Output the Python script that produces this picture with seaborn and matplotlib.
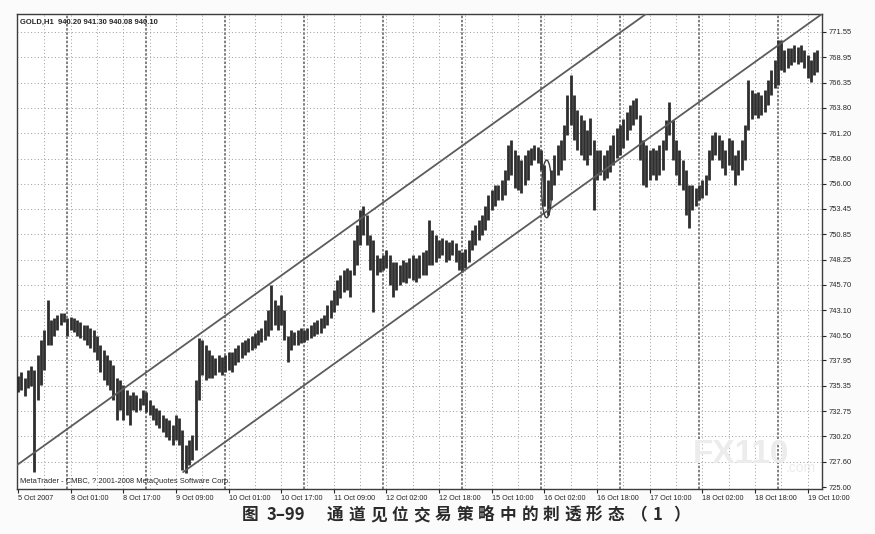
"""
GOLD H1 channel chart (MetaTrader style) with caption.
Saves out.png (875x534).
"""

import matplotlib
matplotlib.use('Agg')

import matplotlib.pyplot as plt
import pandas as pd
import seaborn as sns
from matplotlib.patches import Ellipse


# ── Data ──────────────────────────────────────────────────────────────────────

HIGH = [
    736.4, 736.8, 736.2, 737.0, 737.4, 737.0, 738.5, 740.0, 741.1, 744.1,
    742.1, 742.3, 742.6, 742.8, 742.8, 742.3, 742.4, 742.3, 742.1, 741.9,
    741.6, 741.6, 741.3, 741.1, 740.5, 739.5, 739.0, 738.5, 738.0, 737.5,
    736.2, 735.9, 735.4, 734.9, 734.4, 734.7, 734.4, 734.1, 734.9, 734.7,
    733.9, 733.4, 733.1, 732.9, 732.4, 732.1, 731.9, 731.3, 732.4, 732.1,
    730.8, 729.3, 729.8, 730.3, 735.9, 740.2, 740.0, 739.5, 739.0, 738.5,
    738.2, 738.5, 738.3, 738.5, 738.8, 738.8, 739.2, 739.5, 739.8, 740.0,
    740.2, 740.5, 740.8, 741.1, 741.3, 742.1, 743.1, 745.7, 744.1, 743.6,
    744.6, 743.1, 740.5, 741.1, 740.9, 741.1, 741.3, 741.1, 741.3, 741.6,
    741.9, 742.1, 742.3, 742.6, 743.6, 744.1, 745.2, 746.2, 746.7, 747.2,
    747.4, 747.2, 750.3, 751.8, 753.3, 753.8, 752.8, 750.8, 750.3, 748.7,
    748.4, 748.7, 749.2, 748.7, 748.0, 748.0, 747.7, 748.2, 748.0, 748.4,
    748.7, 748.4, 748.7, 749.0, 749.2, 752.3, 751.3, 750.8, 750.3, 750.5,
    750.3, 750.1, 750.3, 750.0, 749.2, 749.0, 749.4, 750.3, 751.3, 751.8,
    752.3, 752.8, 753.8, 754.9, 755.4, 755.9, 755.9, 756.4, 757.4, 760.0,
    760.5, 759.5, 759.0, 758.5, 759.0, 759.5, 759.7, 760.0, 759.8, 759.5,
    757.9, 756.4, 757.4, 759.0, 760.0, 760.5, 762.0, 765.1, 767.1, 765.1,
    763.6, 763.1, 762.5, 761.5, 762.8, 760.5, 759.5, 759.5, 759.0, 759.5,
    760.0, 761.0, 761.7, 762.0, 762.7, 763.4, 764.1, 764.6, 764.8, 763.1,
    760.5, 760.0, 759.5, 759.7, 759.5, 760.0, 760.5, 762.5, 764.4, 762.5,
    760.5, 759.5, 758.5, 757.4, 755.9, 755.9, 755.6, 755.9, 756.4, 756.9,
    759.5, 761.0, 761.3, 761.0, 760.5, 759.5, 760.7, 760.5, 759.0, 759.5,
    760.5, 762.0, 766.6, 765.6, 765.3, 765.4, 765.1, 765.6, 766.6, 767.7,
    768.7, 770.7, 770.7, 769.7, 769.9, 769.9, 770.2, 770.0, 770.2, 769.7,
    769.2, 768.7, 769.5, 769.7,
]

LOW = [
    734.7, 734.9, 734.3, 735.1, 735.3, 726.5, 733.9, 735.4, 737.0, 739.5,
    739.5, 740.5, 741.1, 741.6, 741.9, 740.5, 741.1, 740.9, 740.5, 740.2,
    740.0, 739.5, 739.2, 738.8, 738.0, 736.8, 735.9, 735.4, 734.9, 733.9,
    731.9, 732.9, 731.9, 732.4, 731.3, 732.9, 732.7, 732.9, 733.4, 732.7,
    732.4, 731.9, 731.3, 731.0, 730.6, 730.1, 729.8, 729.3, 729.8, 729.3,
    726.7, 726.4, 727.3, 727.8, 728.8, 733.9, 736.5, 735.9, 736.2, 736.2,
    736.5, 736.8, 736.5, 736.8, 737.0, 736.8, 737.5, 737.8, 738.2, 738.5,
    738.8, 739.0, 739.2, 739.5, 739.8, 740.0, 740.5, 741.1, 741.6, 741.1,
    741.6, 740.0, 737.8, 739.0, 739.5, 739.5, 739.7, 739.8, 740.0, 740.2,
    740.4, 740.7, 740.8, 741.3, 741.6, 742.3, 742.9, 743.6, 744.3, 745.0,
    745.2, 744.4, 746.7, 747.7, 749.8, 750.8, 749.8, 747.2, 742.9, 746.7,
    747.0, 747.2, 747.4, 745.7, 744.4, 745.2, 745.7, 746.0, 745.9, 746.4,
    746.2, 746.0, 746.4, 746.7, 746.7, 747.7, 747.7, 748.0, 748.4, 748.7,
    748.0, 748.2, 748.7, 748.0, 747.2, 747.0, 747.4, 748.0, 749.2, 749.8,
    750.3, 750.8, 751.3, 752.3, 753.3, 753.8, 754.4, 754.4, 754.9, 756.4,
    756.9, 755.6, 755.4, 755.1, 755.9, 756.4, 757.9, 758.5, 758.1, 757.4,
    753.8, 752.8, 754.4, 755.9, 756.9, 757.4, 758.5, 761.0, 762.0, 760.5,
    759.5, 759.0, 758.5, 757.9, 759.0, 753.3, 756.4, 756.9, 756.4, 756.6,
    757.2, 757.9, 758.7, 759.0, 759.7, 760.5, 761.5, 762.0, 762.7, 758.5,
    755.9, 755.7, 756.4, 756.9, 756.4, 756.9, 757.4, 759.5, 761.0, 758.5,
    756.9, 755.9, 755.4, 752.8, 751.5, 753.3, 753.8, 754.4, 754.6, 754.9,
    756.4, 758.5, 759.0, 758.5, 757.6, 756.9, 757.9, 757.4, 755.9, 756.9,
    757.4, 758.5, 761.5, 762.7, 763.1, 762.8, 763.1, 763.4, 764.1, 765.1,
    765.8, 766.1, 767.7, 767.5, 767.9, 768.2, 768.5, 768.3, 768.5, 767.9,
    766.8, 766.4, 767.2, 767.5,
]

X_TICK_LABELS = [
    '5 Oct 2007', '8 Oct 01:00', '8 Oct 17:00', '9 Oct 09:00',
    '10 Oct 01:00', '10 Oct 17:00', '11 Oct 09:00', '12 Oct 02:00',
    '12 Oct 18:00', '15 Oct 10:00', '16 Oct 02:00', '16 Oct 18:00',
    '17 Oct 10:00', '18 Oct 02:00', '18 Oct 18:00', '19 Oct 10:00',
]

Y_TICK_LABELS = [
    '725.00', '727.60', '730.20', '732.75', '735.35', '737.95', '740.50',
    '743.10', '745.70', '748.25', '750.85', '753.45', '756.00', '758.60',
    '761.20', '763.80', '766.35', '768.95', '771.55',
]

# channel lines (bar index, price)
UPPER_X = [-0.3, 190.9]
UPPER_Y = [727.25, 773.39]
LOWER_X = [50.2, 244.4]
LOWER_Y = [726.53, 773.40]

# highlighted bar (ellipse centre, bar index / price)
MARK_X = 160.7
MARK_Y = 755.5

HEADER = 'GOLD,H1  940.20 941.30 940.08 940.10'
FOOTER = 'MetaTrader - CMBC, ? 2001-2008 MetaQuotes Software Corp.'
CAPTION_NO = ['图', '3–99']
CAPTION = '通道见位交易策略中的刺透形态'
CAPTION_END = ['（', '1', '）']


# ── Style ─────────────────────────────────────────────────────────────────────

BAR_COLOUR = '#2e2e2e'
LINE_COLOUR = '#5c5c5c'
GRID_COLOUR = '#9a9a9a'
TEXT_COLOUR = '#262626'

sns.set_theme(style='white')
plt.rcParams['font.family'] = ['Liberation Sans', 'DejaVu Sans']

W, H = 875, 534
fig = plt.figure(figsize=(W / 100, H / 100), dpi=100, facecolor='#fbfbfb')
ax = fig.add_axes([17 / W, 1 - 489 / H, (822 - 17) / W, (489 - 14) / H])
ax.set_facecolor('white')

bars = pd.DataFrame({'bar': range(len(HIGH)), 'high': HIGH, 'low': LOW})

ax.set_xlim(-0.3, 244.4)
ax.set_ylim(724.8, 773.39)

# grid: dotted every 8 bars, heavier dashed day separators, dotted price levels
y_ticks = [float(s) for s in Y_TICK_LABELS]
for b in range(8, 245, 8):
    ax.axvline(b, color=GRID_COLOUR, lw=0.7, ls=(0, (1, 2.5)), zorder=0)
for b in range(15, 245, 24):
    ax.axvline(b, color='#6a6a6a', lw=1.2, ls=(0, (1.5, 1)), zorder=0)
for y in y_ticks[1:]:
    ax.axhline(y, color=GRID_COLOUR, lw=0.7, ls=(0, (1, 2.5)), zorder=0)

# watermark (faint, under the bars)
ax.text((693 - 17) / 805, 0.04, 'FX110', transform=ax.transAxes, fontsize=24,
        fontweight='bold', color='#ececec', ha='left', va='bottom', zorder=1)
ax.text(0.992, 0.03, '.com', transform=ax.transAxes, fontsize=10,
        color='#ececec', ha='right', va='bottom', zorder=1)

# price bars
ax.vlines(bars['bar'], bars['low'], bars['high'], color=BAR_COLOUR, lw=2.0, zorder=3)

# channel
channel = pd.concat([
    pd.DataFrame({'x': UPPER_X, 'y': UPPER_Y, 'line': 'upper'}),
    pd.DataFrame({'x': LOWER_X, 'y': LOWER_Y, 'line': 'lower'}),
])
sns.lineplot(data=channel, x='x', y='y', units='line', estimator=None,
             color=LINE_COLOUR, lw=1.3, ax=ax, zorder=4, legend=False)

ax.add_patch(Ellipse((MARK_X, MARK_Y), width=3.0, height=5.9,
                     fill=False, ec='#3a3a3a', lw=1.0, zorder=5))

# axes decoration
ax.yaxis.tick_right()
ax.set_yticks(y_ticks)
ax.set_yticklabels(Y_TICK_LABELS)
ax.set_xticks(range(0, 16 * len(X_TICK_LABELS), 16))
ax.set_xticklabels(X_TICK_LABELS, ha='left')
ax.tick_params(axis='y', right=True, length=3, width=0.8, pad=2,
               labelsize=5.4, colors=TEXT_COLOUR)
ax.tick_params(axis='x', bottom=True, length=3, width=0.8, pad=1.5,
               labelsize=5.2, colors=TEXT_COLOUR)
ax.set_xlabel('')
ax.set_ylabel('')
for spine in ax.spines.values():
    spine.set_color('#3c3c3c')
    spine.set_linewidth(1.0)

ax.text(3 / 805, 1 - 5 / 475, HEADER, transform=ax.transAxes, fontsize=5.5,
        fontweight='bold', color=TEXT_COLOUR, ha='left', va='top', zorder=6)
ax.text(3 / 805, 4 / 475, FOOTER, transform=ax.transAxes, fontsize=5.4,
        color=TEXT_COLOUR, ha='left', va='bottom', zorder=6)

# caption (wide letter spacing, placed glyph by glyph)
cjk = ['Noto Sans CJK SC', 'DejaVu Sans']
cap_y = 1 - 515 / H
cap_kw = dict(family=cjk, fontsize=12, fontweight='bold', color='#2a2a2a',
              ha='left', va='center')
for x, part in zip([242, 267], CAPTION_NO):
    fig.text(x / W, cap_y, part, **cap_kw)
for i, ch in enumerate(CAPTION):
    fig.text((327 + 21.6 * i) / W, cap_y, ch, **cap_kw)
for x, ch in zip([631, 653, 673], CAPTION_END):
    fig.text(x / W, cap_y, ch, **cap_kw)

fig.savefig('out.png', dpi=100, facecolor=fig.get_facecolor())
